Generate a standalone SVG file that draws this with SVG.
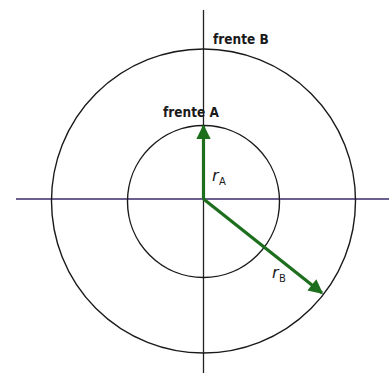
<svg xmlns="http://www.w3.org/2000/svg" width="389" height="373" viewBox="0 0 389 373">
<defs>
<style>
.ring{fill:none;stroke:#1a1a1a;stroke-width:1.4}
.axis{stroke-width:1.3}
.vec{stroke:#1d6e1d;stroke-width:3.2;fill:none}
.lbl{font-family:"DejaVu Sans Condensed","DejaVu Sans",sans-serif;font-weight:bold;font-size:13.5px;fill:#1a1a1a}
.r{font-family:"DejaVu Sans","Liberation Sans",sans-serif;font-style:italic;font-size:16px;fill:#1a1a1a}
.sub{font-family:"DejaVu Sans","Liberation Sans",sans-serif;font-size:10px;fill:#1a1a1a}
</style>
<marker id="ah" viewBox="0 0 10 10" refX="9" refY="5" markerWidth="5" markerHeight="4.5" orient="auto" markerUnits="strokeWidth">
<path d="M0,0 L10,5 L0,10 z" fill="#1d6e1d"/>
</marker>
</defs>
<rect width="389" height="373" fill="#ffffff"/>
<g id="axes">
<line class="axis" x1="16" y1="199" x2="389" y2="199" stroke="#3a2a6a"/>
<line class="axis" x1="203.5" y1="10" x2="203.5" y2="373" stroke="#222"/>
</g>
<g id="frenteB">
<circle class="ring" cx="203.5" cy="201" r="152"/>
<text class="lbl" x="213" y="44">frente B</text>
</g>
<g id="frenteA">
<circle class="ring" cx="203.5" cy="201.5" r="76"/>
<text class="lbl" x="163" y="117">frente A</text>
</g>
<g id="connectors">
<line class="vec" x1="203.5" y1="199" x2="203.5" y2="126" marker-end="url(#ah)"/>
<line class="vec" x1="203.5" y1="199" x2="322" y2="293" marker-end="url(#ah)"/>
</g>
<g id="labels">
<text class="r" x="212" y="181">r</text><text class="sub" x="219" y="185">A</text>
<text class="r" x="272" y="278">r</text><text class="sub" x="279" y="282">B</text>
</g>
</svg>
